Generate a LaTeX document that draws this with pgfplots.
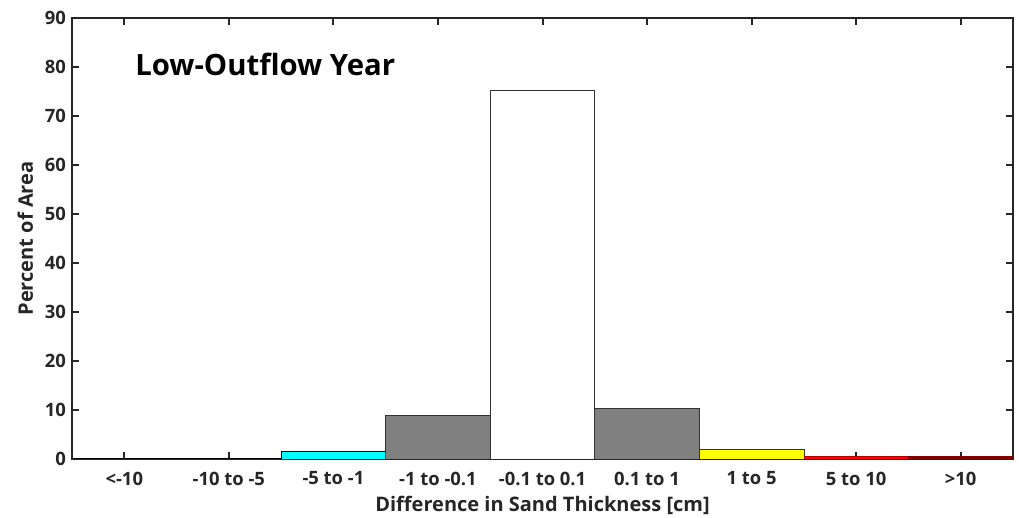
\documentclass[border=0pt]{standalone}
\usepackage{fontspec}
\setmainfont{Open Sans}
\usepackage{pgfplots}
\pgfplotsset{compat=1.18}
\definecolor{axc}{HTML}{262626}
\definecolor{darkred}{RGB}{128,0,0}
\definecolor{navy}{RGB}{0,0,128}
\definecolor{cyn}{RGB}{0,255,255}
\definecolor{ylw}{RGB}{255,255,0}
\definecolor{rd}{RGB}{255,0,0}
\begin{document}
\begin{tikzpicture}
\begin{axis}[
  scale only axis,
  width=705.75pt, height=330.75pt,
  xmin=0.5, xmax=9.5, ymin=0, ymax=90,
  xtick={1,...,9},
  xticklabels={{<-10},{-10 to -5},{-5 to -1},{-1 to -0.1},{-0.1 to 0.1},{0.1 to 1},{1 to 5},{5 to 10},{>10}},
  ytick={0,10,...,90},
  tick align=inside,
  major tick length=5pt,
  axis line style={axc, line width=1.5pt},
  every tick/.style={axc, line width=1.5pt},
  tick label style={font=\fontsize{13.8}{16}\selectfont\bfseries, text=axc},
  /pgf/number format/assume math mode=true,
  xlabel={Difference in Sand Thickness [cm]},
  ylabel={Percent of Area},
  label style={font=\fontsize{15}{17}\selectfont\bfseries, text=axc},
  xlabel style={yshift=-1pt},
  ylabel style={yshift=2pt},
  xticklabel style={yshift=-6pt},
  yticklabel style={xshift=-1pt},
]
\addplot[ybar, bar width=1, bar shift=0pt, fill=navy, draw=black] coordinates {(1,0.1)};
\addplot[ybar, bar width=1, bar shift=0pt, fill=blue, draw=black] coordinates {(2,0.15)};
\addplot[ybar, bar width=1, bar shift=0pt, fill=cyn, draw=black, line width=0.6pt] coordinates {(3,1.5)};
\addplot[ybar, bar width=1, bar shift=0pt, fill=gray, draw=black!80, line width=0.6pt] coordinates {(4,8.8)};
\addplot[ybar, bar width=1, bar shift=0pt, fill=white, draw=black!80, line width=0.6pt] coordinates {(5,75.3)};
\addplot[ybar, bar width=1, bar shift=0pt, fill=gray, draw=black!80, line width=0.6pt] coordinates {(6,10.4)};
\addplot[ybar, bar width=1, bar shift=0pt, fill=ylw, draw=black!80, line width=0.6pt] coordinates {(7,2.0)};
\addplot[ybar, bar width=1, bar shift=0pt, fill=rd, draw=rd!70!black, line width=0.6pt] coordinates {(8,0.5)};
\addplot[ybar, bar width=1, bar shift=0pt, fill=darkred, draw=darkred, line width=0.6pt] coordinates {(9,0.45)};
\node[anchor=west, font=\fontsize{22}{26}\selectfont\bfseries] at (axis cs:1.06,80.5) {Low-Outflow Year};
\end{axis}
\pgfresetboundingbox
\path[use as bounding box] ([xshift=-54pt, yshift=-44.25pt]current axis.south west) rectangle ([xshift=4.5pt, yshift=13.5pt]current axis.north east);
\end{tikzpicture}
\end{document}
